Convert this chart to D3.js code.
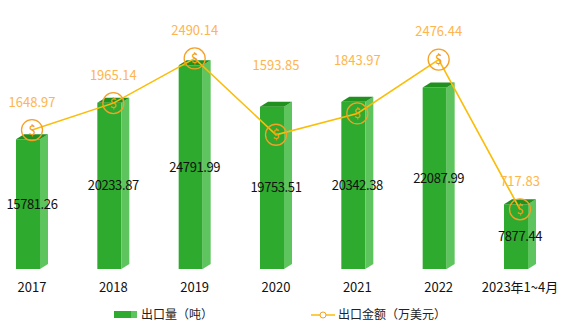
<!DOCTYPE html>
<html><head><meta charset="utf-8">
<script src="https://cdn.jsdelivr.net/npm/d3@7"></script>
<style>body{margin:0;background:#fff}svg{display:block}text{font-family:"Noto Sans CJK SC","Noto Sans",sans-serif}</style>
</head><body><svg id="c" width="565" height="330"></svg>
<script>
const categories = ["2017","2018","2019","2020","2021","2022","2023年1~4月"];
const volume = [15781.26, 20233.87, 24791.99, 19753.51, 20342.38, 22087.99, 7877.44];
const amount = [1648.97, 1965.14, 2490.14, 1593.85, 1843.97, 2476.44, 717.83];
const legendLabels = ["出口量（吨）", "出口金额（万美元）"];

const svg = d3.select("#c");
const x = d3.scalePoint().domain(categories).range([32, 520]);
const yBar = d3.scaleLinear().domain([0, 30000]).range([269, 22.5]);
const yLine = d3.scaleLinear().domain([0, 3000]).range([270.5, 15]);

const fw = 24, sw = 8, dy = 5;
const frontColor = "#2eaa2e", sideColor = "#5ec45e", topColor = "#20901f";

const g = svg.append("g");
categories.forEach((c, i) => {
  const cx = x(c), yt = yBar(volume[i]), yb = yBar(0);
  const l = cx - 16, r = l + fw;
  g.append("rect").attr("x", l).attr("y", yt).attr("width", fw).attr("height", yb - yt).attr("fill", frontColor);
  g.append("path").attr("d", `M${r},${yt}L${r+sw},${yt-dy}L${r+sw},${yb-dy}L${r},${yb}Z`).attr("fill", sideColor);
  g.append("path").attr("d", `M${l},${yt}L${r},${yt}L${r+sw},${yt-dy}L${l+sw},${yt-dy}Z`).attr("fill", topColor);
  g.append("text").attr("x", cx).attr("y", (yt + yb) / 2).attr("dy", "0.35em")
    .attr("text-anchor", "middle").attr("font-size", 13).attr("letter-spacing", "-0.4px")
    .attr("fill", "#111").text(volume[i].toFixed(2));
});

// x axis labels
svg.append("g").selectAll("text").data(categories).join("text")
  .attr("x", d => x(d)).attr("y", 287).attr("dy", "0.35em").attr("text-anchor", "middle")
  .attr("font-size", 13).attr("fill", "#111").text(d => d);

// line
const line = d3.line().x((d, i) => x(categories[i])).y(d => yLine(d));
svg.append("path").datum(amount).attr("d", line).attr("fill", "none")
  .attr("stroke", "#fbbd08").attr("stroke-width", 1.6);

// label lift: labels sit above the point, except where the bar top is higher (moved above bar)
const lift = (d, i) => {
  const py = yLine(d), by = yBar(volume[i]);
  return (py - by > 10) ? (py - by) + 41 : 28;
};
const pts = svg.append("g").selectAll("g").data(amount).join("g")
  .attr("transform", (d, i) => `translate(${x(categories[i])},${yLine(d)})`);
pts.append("circle").attr("r", 10.5).attr("fill", "none").attr("stroke", "#f5a028").attr("stroke-width", 1.3);
pts.append("text").attr("text-anchor", "middle").attr("dy", "0.36em").attr("font-size", 13)
  .attr("fill", "#f39c12").text("$");
pts.append("text").attr("text-anchor", "middle").attr("y", (d, i) => -lift(d, i)).attr("dy", "0.35em")
  .attr("font-size", 13).attr("fill", "#ffb54d").text(d => d.toFixed(2));

// legend
const lg = svg.append("g");
lg.append("rect").attr("x", 114).attr("y", 311).attr("width", 17).attr("height", 7).attr("fill", frontColor);
lg.append("rect").attr("x", 131).attr("y", 311).attr("width", 6).attr("height", 7).attr("fill", sideColor);
lg.append("text").attr("x", 141).attr("y", 315).attr("dy", "0.35em").attr("font-size", 12).attr("fill", "#222").text(legendLabels[0]);
lg.append("line").attr("x1", 311).attr("x2", 335).attr("y1", 315).attr("y2", 315).attr("stroke", "#fbbd08").attr("stroke-width", 1.5);
lg.append("circle").attr("cx", 323).attr("cy", 315).attr("r", 3).attr("fill", "#fff").attr("stroke", "#f5a028").attr("stroke-width", 1);
lg.append("text").attr("x", 338).attr("y", 315).attr("dy", "0.35em").attr("font-size", 12).attr("fill", "#222").text(legendLabels[1]);
</script></body></html>
